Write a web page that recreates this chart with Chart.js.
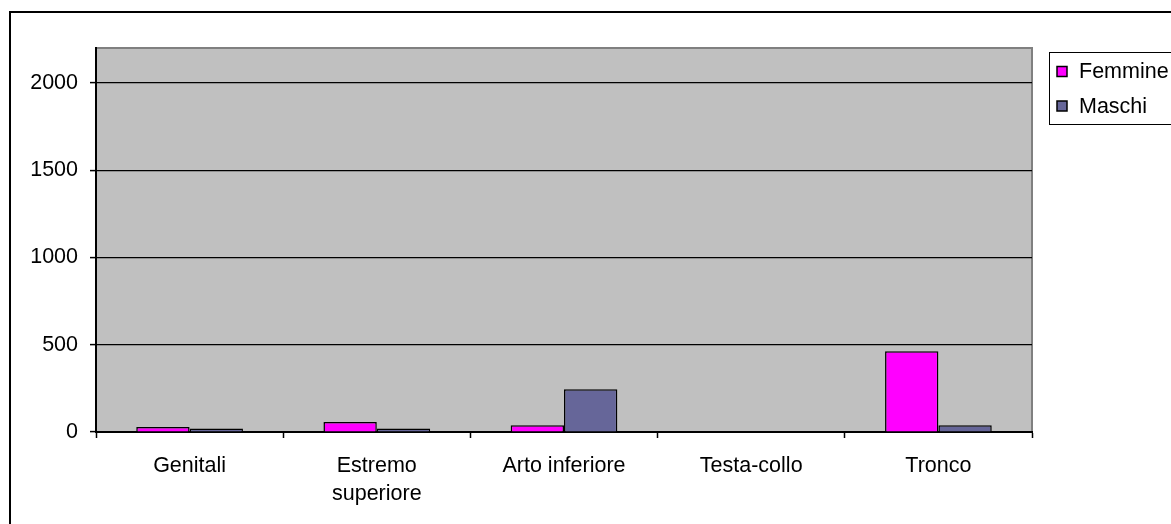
<!DOCTYPE html>
<html>
<head>
<meta charset="utf-8">
<script src="https://cdn.jsdelivr.net/npm/chart.js@4"></script>
<style>
html,body{margin:0;padding:0;background:#fff;}
canvas{display:block;}
</style>
</head>
<body>
<canvas id="c" width="1171" height="524"></canvas>
<script>
const categories = ['Genitali', ['Estremo', 'superiore'], 'Arto inferiore', 'Testa-collo', 'Tronco'];
const femmine = [29, 57, 38, 0, 463];
const maschi = [20, 20, 245, 0, 38];
const seriesNames = ['Femmine', 'Maschi'];
const seriesColors = ['#FF00FF', '#666699'];
const yTicks = [0, 500, 1000, 1500, 2000];
const yMax = 2200;

const FONT = 'Liberation Sans, Arial, sans-serif';
const FS = 21.5;

const framePlugin = {
  id: 'frame',
  beforeDraw(chart) {
    const ctx = chart.ctx, a = chart.chartArea;
    ctx.save();
    ctx.fillStyle = '#fff';
    ctx.fillRect(0, 0, chart.width, chart.height);
    ctx.strokeStyle = '#000';
    ctx.lineWidth = 2;
    ctx.strokeRect(10, 12, chart.width + 20, chart.height + 20);
    ctx.fillStyle = '#C0C0C0';
    ctx.fillRect(a.left, a.top, a.right - a.left, a.bottom - a.top);
    ctx.strokeStyle = '#808080';
    ctx.lineWidth = 2;
    ctx.beginPath();
    ctx.moveTo(a.left, a.top);
    ctx.lineTo(a.right, a.top);
    ctx.lineTo(a.right, a.bottom);
    ctx.stroke();
    ctx.restore();
  },
  afterDraw(chart) {
    const ctx = chart.ctx;
    ctx.save();
    ctx.strokeStyle = '#000';
    ctx.lineWidth = 1;
    ctx.fillStyle = '#fff';
    ctx.fillRect(1049.5, 52.5, 140, 72);
    ctx.strokeRect(1049.5, 52.5, 140, 72);
    ctx.font = FS + 'px ' + FONT;
    ctx.textBaseline = 'middle';
    ctx.textAlign = 'left';
    chart.data.datasets.forEach((ds, i) => {
      const cy = 71.5 + i * 34.5;
      ctx.fillStyle = ds.backgroundColor;
      ctx.fillRect(1057, cy - 5, 10, 10);
      ctx.strokeStyle = '#000';
      ctx.lineWidth = 1.5;
      ctx.strokeRect(1057, cy - 5, 10, 10);
      ctx.fillStyle = '#000';
      ctx.fillText(ds.label, 1079, cy + 1);
    });
    ctx.restore();
  }
};

new Chart(document.getElementById('c'), {
  type: 'bar',
  data: {
    labels: categories,
    datasets: [
      { label: seriesNames[0], data: femmine, backgroundColor: seriesColors[0], borderColor: '#000', borderWidth: 1.5 },
      { label: seriesNames[1], data: maschi, backgroundColor: seriesColors[1], borderColor: '#000', borderWidth: 1.5 }
    ]
  },
  options: {
    responsive: false,
    animation: false,
    layout: { padding: { left: 0, top: 48, right: 139, bottom: 0 } },
    plugins: { legend: { display: false }, tooltip: { enabled: false } },
    datasets: { bar: { barPercentage: 1.0, categoryPercentage: 0.57 } },
    scales: {
      x: {
        offset: true,
        grid: { display: true, offset: true, color: 'transparent', tickColor: '#000', tickLength: 6, tickWidth: 1.5 },
        border: { display: true, color: '#000', width: 2 },
        ticks: { color: '#000', font: { family: FONT, size: FS, lineHeight: 1.3 }, padding: 14, maxRotation: 0, autoSkip: false },
        afterFit(scale) { scale.height = 92; }
      },
      y: {
        min: 0,
        max: yMax,
        grid: { color: '#000', lineWidth: 1.2, tickColor: '#000', tickLength: 6, tickWidth: 1.5 },
        border: { display: true, color: '#000', width: 2 },
        ticks: { color: '#000', font: { family: FONT, size: FS }, padding: 12, autoSkip: false, callback: v => String(v) },
        afterBuildTicks(scale) { scale.ticks = yTicks.map(v => ({ value: v })); },
        afterFit(scale) { scale.width = 96; }
      }
    }
  },
  plugins: [framePlugin]
});
</script>
</body>
</html>
